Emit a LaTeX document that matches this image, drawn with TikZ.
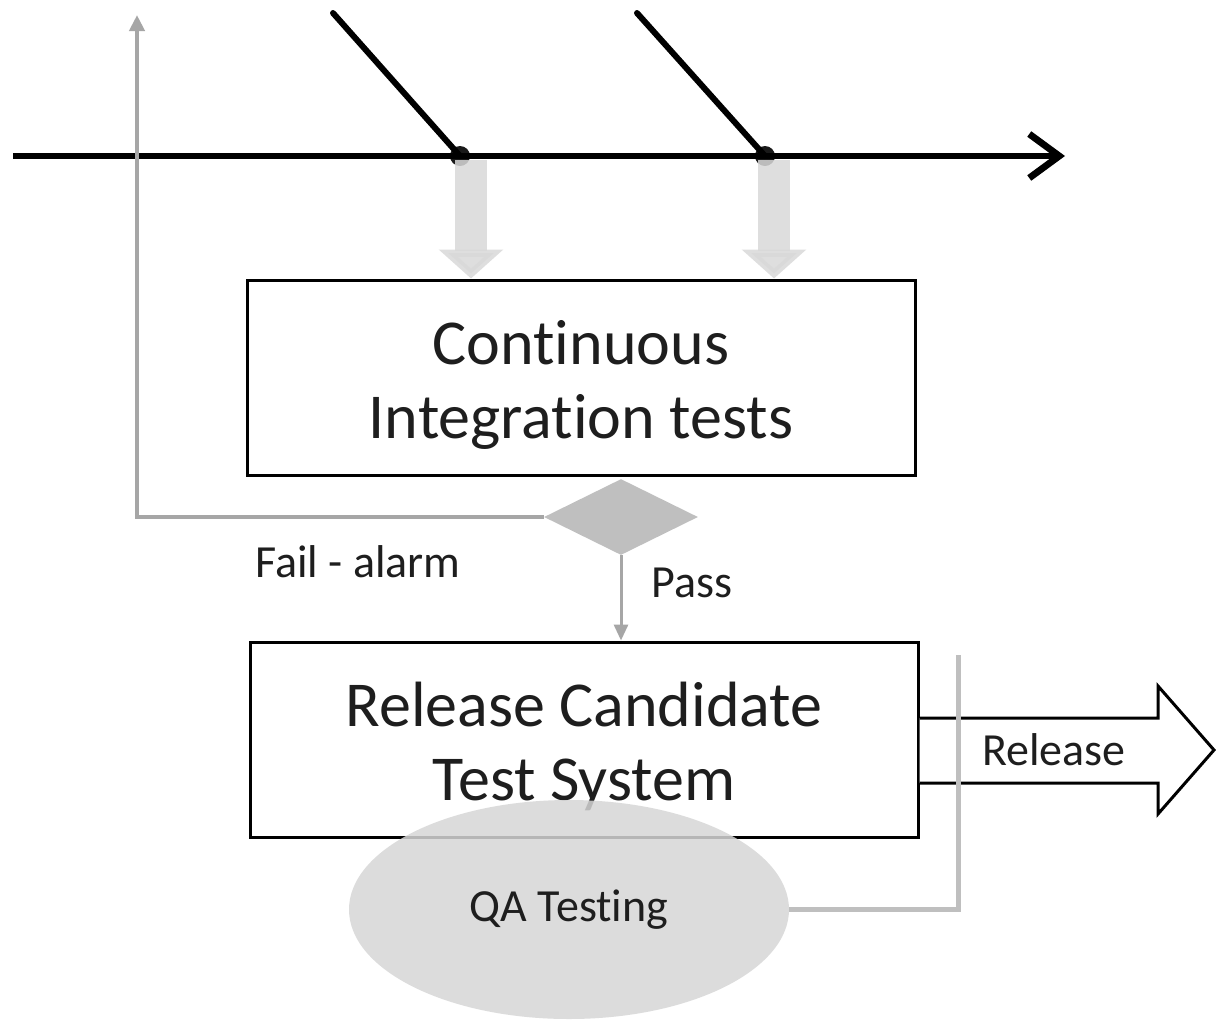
\documentclass[tikz,border=0pt]{standalone}
\usepackage{fontspec}
\setmainfont{Carlito}[Ligatures=NoCommon]
\usetikzlibrary{arrows.meta,shapes.geometric}
\definecolor{txt}{HTML}{1E1E1E}
\definecolor{flowgray}{HTML}{A6A6A6}
\definecolor{blockgray}{HTML}{D9D9D9}
\definecolor{diagray}{HTML}{BFBFBF}
\definecolor{ellgray}{HTML}{D6D6D6}
\begin{document}
\begin{tikzpicture}[x=0.5pt,y=-0.5pt,
  bigtext/.style={font=\fontsize{32}{37}\selectfont, text=txt, align=center},
  smalltext/.style={font=\fontsize{23}{27}\selectfont, text=txt},
  stagebox/.style={draw=black, line width=1.5pt, fill=white, minimum width=334pt, minimum height=97.5pt, inner sep=0pt},
  branchdot/.style={circle, fill=black!90, minimum size=10pt, inner sep=0pt},
  timeline/.style={line width=3.4pt, black},
  feedline/.style={line width=2pt, flowgray},
  mergearrow/.style={line width=16pt, blockgray, opacity=0.85, -{Triangle[length=14.5pt,width=31.5pt]}},
]
% canvas
\useasboundingbox (0,0) rectangle (1216,1019);
\fill[white] (0,0) rectangle (1216,1019);

% trunk line with two merging branches
\coordinate (trunkstart) at (13,156);
\coordinate (trunkend) at (1065,156);
\coordinate (b1top) at (333,13);
\coordinate (b2top) at (637,13);
\node[branchdot] (d1) at (460,156) {};
\node[branchdot] (d2) at (765,156) {};
\draw[timeline, -{Straight Barb[length=15pt,width=22pt,line width=3.4pt]}] (trunkstart) -- (trunkend);
\draw[line width=3pt, line cap=round] (b1top) -- (d1.center);
\draw[line width=3pt, line cap=round] (b2top) -- (d2.center);

% stages
\node[stagebox] (ci) at (581,377.5) {};
\node[bigtext] (citext) at ([yshift=-3.5pt]ci.center) {Continuous\\Integration tests};
\node[stagebox] (rc) at (584,739.5) {};
\node[bigtext] (rctext) at ([yshift=-3.5pt]rc.center) {Release Candidate\\Test System};

% merges trigger the integration tests
\coordinate (m1) at (471,160);
\coordinate (m2) at (774,160);
\draw[mergearrow] (m1) -- (m1 |- ci.north);
\draw[mergearrow] (m2) -- (m2 |- ci.north);

% decision after the integration tests
\node[diamond, fill=diagray, minimum width=77pt, minimum height=38pt, inner sep=0pt] (dec) at (621,517) {};
\coordinate (alarm) at (137,15);
\draw[feedline, -{Triangle[length=8pt,width=7.5pt]}] (dec.west) -| (alarm);
\draw[line width=1.5pt, flowgray, -{Triangle[length=8pt,width=7pt]}] (dec.south) -- (dec.south |- rc.north);
\node[smalltext] (faillbl) at (358,562) {Fail - alarm};
\node[smalltext] (passlbl) at (692,583) {Pass};

% release block arrow
\coordinate (ra1) at (rc.east |- 0,718);
\coordinate (ra7) at (rc.east |- 0,783);
\draw[line width=1.5pt, fill=white, line join=miter]
  (ra1) -- (1158,718) -- (1158,686) -- (1214,750) -- (1158,814) -- (1158,783) -- (ra7);
\node[smalltext] (rellbl) at (1054,750) {Release};

% QA testing loop
\node[ellipse, fill=ellgray, fill opacity=0.85, text opacity=1, minimum width=220pt, minimum height=109.5pt, inner sep=0pt, smalltext] (qa) at (569,909.5) {QA Testing};
\coordinate (gate) at (958,655);
\draw[line width=2.5pt, diagray] (qa.east) -| (gate);
\end{tikzpicture}
\end{document}
